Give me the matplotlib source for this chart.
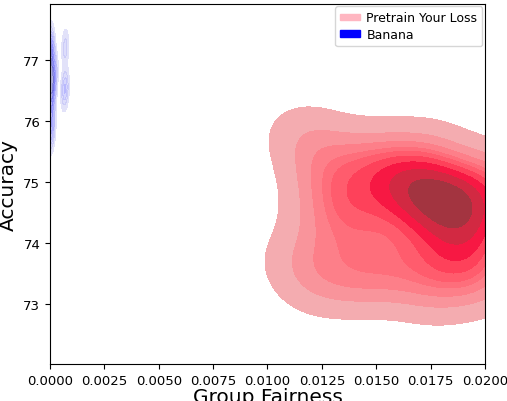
import matplotlib
matplotlib.use("Agg")
import matplotlib.pyplot as plt
import matplotlib.patches as mpatches
import seaborn as sns

# fairness / accuracy samples
PYL_FAIRNESS = [
    0.0178, 0.0183, 0.0175, 0.0188, 0.0172, 0.0185, 0.0180, 0.0192, 0.0168, 0.0190,
    0.0160, 0.0155, 0.0165, 0.0195, 0.0188, 0.0200, 0.0175, 0.0150, 0.0198, 0.0170,
    0.0140, 0.0130, 0.0145, 0.0165, 0.0185, 0.0205, 0.0122, 0.0130, 0.0175, 0.0150,
    0.0140, 0.0175, 0.0200, 0.0210, 0.0125, 0.0150, 0.0118,
    0.0178, 0.0195, 0.0160, 0.0135, 0.0128, 0.0142,
    0.0115, 0.0122, 0.0192,
]
PYL_ACCURACY = [
    74.75, 74.62, 74.85, 74.55, 74.95, 74.80, 74.50, 74.70, 75.05, 74.35,
    75.10, 75.00, 74.60, 74.10, 73.90, 74.85, 74.30, 74.70, 75.20, 75.25,
    74.40, 74.90, 73.90, 73.50, 73.40, 74.40, 75.50, 73.80, 75.60, 75.55,
    73.30, 73.10, 73.30, 75.00, 74.30, 73.40, 75.85,
    73.75, 73.65, 73.95, 74.60, 75.10, 75.30,
    73.70, 73.25, 73.95,
]

BANANA_FAIRNESS = [
    0.00001, 0.00003, 0.00002, 0.00005, 0.00000, 0.00008, 0.00004, 0.00012,
    0.00002, 0.00006, 0.00015, 0.00003, 0.00001, 0.00010, 0.00020, 0.00005,
    0.00002, 0.00070, 0.00072, 0.00065,
]
BANANA_ACCURACY = [
    77.30, 77.20, 77.05, 76.90, 76.80, 76.70, 76.60, 76.50,
    76.40, 76.30, 76.65, 76.15, 76.00, 75.90, 76.85, 77.10,
    75.75, 77.20, 76.55, 76.50,
]

fig = plt.figure(figsize=(5.07, 4.02), dpi=100)
ax = fig.add_axes([0.0986, 0.092, 0.858, 0.896])

sns.kdeplot(x=PYL_FAIRNESS, y=PYL_ACCURACY, fill=True, color="#ff0040", ax=ax)
sns.kdeplot(x=BANANA_FAIRNESS, y=BANANA_ACCURACY, fill=True, color="blue",
            alpha=0.42, bw_adjust=0.7, ax=ax)

ax.set_xlim(0.0, 0.02)
ax.set_ylim(72.02, 77.92)
ax.set_yticks([73, 74, 75, 76, 77])
ax.set_xticks([0.0, 0.0025, 0.005, 0.0075, 0.01, 0.0125, 0.015, 0.0175, 0.02])
ax.set_xticklabels(["0.0000", "0.0025", "0.0050", "0.0075", "0.0100",
                    "0.0125", "0.0150", "0.0175", "0.0200"])
ax.tick_params(labelsize=9.5)
ax.set_xlabel("Group Fairness", fontsize=14.5, labelpad=0)
ax.set_ylabel("Accuracy", fontsize=14.5)

handles = [
    mpatches.Patch(color="lightpink", label="Pretrain Your Loss"),
    mpatches.Patch(color="blue", label="Banana"),
]
ax.legend(handles=handles, loc="upper right", fontsize=9,
          borderaxespad=0.2, handletextpad=0.5, handlelength=1.6,
          handleheight=0.45, labelspacing=0.3)

fig.savefig("out.png", dpi=100)
